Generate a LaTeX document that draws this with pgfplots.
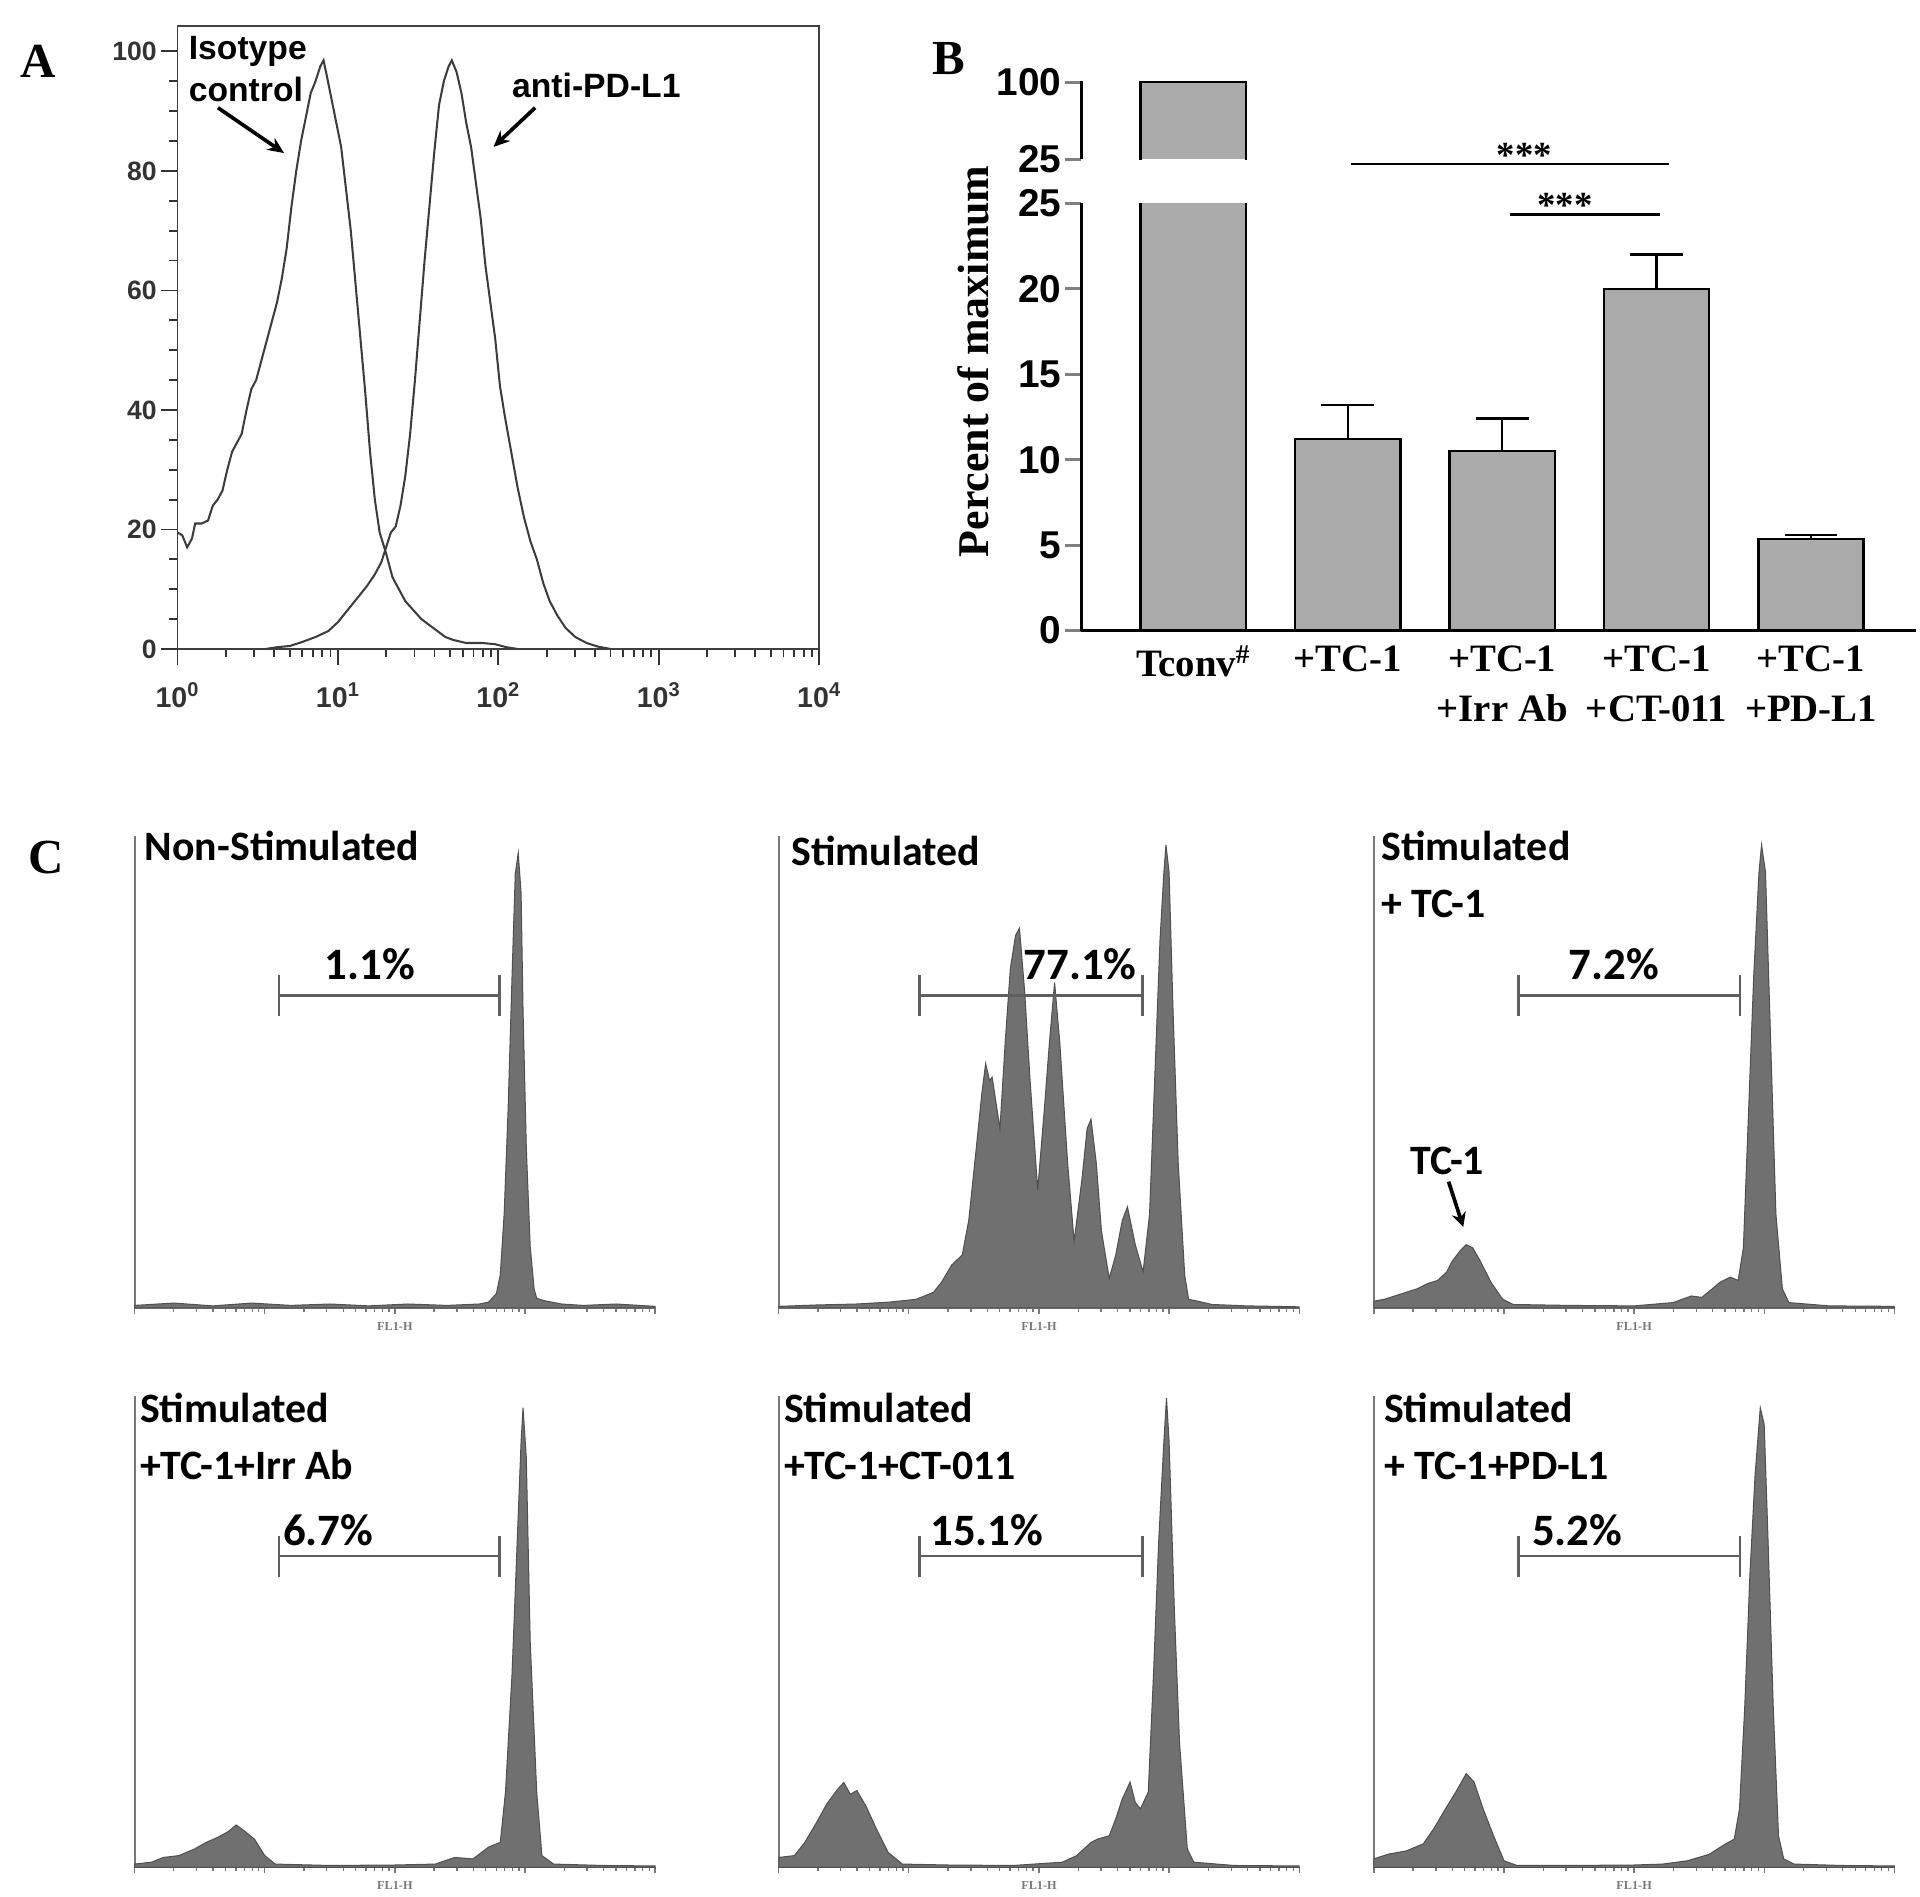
\documentclass[border=0pt]{standalone}
\usepackage{pgfplots}
\pgfplotsset{compat=1.18}
\usetikzlibrary{arrows.meta}
\usepackage{fontspec}
\setmainfont{Liberation Serif}
\newfontfamily\arial{Liberation Sans}
\newfontfamily\calib{Carlito}
\definecolor{histfill}{RGB}{112,112,112}
\definecolor{histline}{RGB}{80,80,80}
\definecolor{axgray}{RGB}{120,120,120}
\definecolor{gategray}{RGB}{95,95,95}
\definecolor{barfill}{RGB}{170,170,170}
\definecolor{curve}{RGB}{60,60,60}
\pgfplotsset{
  logminor/.style={minor xtick={0.301,0.477,0.602,0.699,0.778,0.845,0.903,0.954,
    1.301,1.477,1.602,1.699,1.778,1.845,1.903,1.954,
    2.301,2.477,2.602,2.699,2.778,2.845,2.903,2.954,
    3.301,3.477,3.602,3.699,3.778,3.845,3.903,3.954}},
  cpanel/.style={anchor=south west, scale only axis, width=255pt, height=231pt,
    xmin=0, xmax=4, ymin=0, ymax=100,
    axis lines=left, axis line style={-, color=axgray, line width=1.1pt},
    ytick=\empty, xtick={0,1,2,3,4}, xticklabel=\empty, logminor,
    tick align=outside, major tick length=3pt, minor tick length=2pt,
    tick style={color=axgray, line width=0.6pt},
    xlabel={FL1-H},
    xlabel style={font=\bfseries\fontsize{6}{6}\selectfont, text=axgray, at={(axis description cs:0.5,0)}, anchor=north, yshift=-3.5pt},
    clip=false},
  hist/.style={fill=histfill, draw=histline, line width=0.5pt},
}
\newcommand\gate[3]{\draw[gategray,line width=1.1pt] (#1pt,#3pt)--(#2pt,#3pt) (#1pt,#3pt+9.9pt)--(#1pt,#3pt-9.9pt) (#2pt,#3pt+9.9pt)--(#2pt,#3pt-9.9pt);}
\newcommand\ctitle{\calib\bfseries\fontsize{20.5}{20.5}\selectfont}
\newcommand\cpct{\calib\bfseries\fontsize{22}{22}\selectfont}
\begin{document}
\begin{tikzpicture}
\useasboundingbox (0pt,0pt) rectangle (940.8pt,-929.4pt);

% ---------------- Panel labels
\node[font=\bfseries\fontsize{24}{24}\selectfont] at (18.6pt,-30pt) {A};
\node[font=\bfseries\fontsize{24}{24}\selectfont] at (465pt,-28.8pt) {B};
\node[font=\bfseries\fontsize{24}{24}\selectfont] at (22.8pt,-420pt) {C};

% ---------------- Panel A
\begin{axis}[at={(87pt,-318pt)}, anchor=south west, scale only axis,
  width=314.4pt, height=305.4pt,
  xmin=0, xmax=4, ymin=0, ymax=104.3,
  xtick={0,1,2,3,4},
  xticklabels={10\textsuperscript{0},10\textsuperscript{1},10\textsuperscript{2},10\textsuperscript{3},10\textsuperscript{4}},
  logminor,
  ytick={0,20,40,60,80,100}, minor y tick num=3,
  tick align=outside, tick pos=left,
  major tick length=8pt, minor tick length=4pt,
  tick style={line width=0.9pt, black!80},
  axis line style={line width=0.9pt, black!75},
  /pgf/number format/assume math mode=true,
  yticklabel style={font=\arial\bfseries\fontsize{13}{13}\selectfont, text=black!80, inner xsep=2pt},
  xticklabel style={font=\arial\bfseries\fontsize{14}{14}\selectfont, text=black!80, yshift=-5pt},
]
\addplot[curve, line width=1pt] table {
x y
0.00 19.5
0.03 19.0
0.06 17.0
0.09 18.5
0.11 21.0
0.15 21.0
0.19 21.5
0.22 24.0
0.25 25.0
0.28 26.5
0.31 30.0
0.34 33.0
0.37 34.5
0.40 36.0
0.43 40.0
0.46 43.5
0.49 45.0
0.52 48.0
0.55 51.0
0.58 54.0
0.62 58.0
0.65 62.0
0.68 67.0
0.71 74.0
0.74 80.0
0.77 85.0
0.80 89.0
0.83 93.0
0.86 95.0
0.89 97.5
0.91 98.5
0.93 96.0
0.96 92.0
0.99 88.0
1.02 84.0
1.05 77.0
1.08 70.0
1.11 61.0
1.14 52.0
1.17 43.0
1.20 33.0
1.23 25.0
1.26 19.5
1.30 16.0
1.34 12.0
1.38 10.0
1.42 8.0
1.47 6.5
1.52 5.0
1.57 4.0
1.62 3.0
1.67 2.0
1.72 1.5
1.80 1.0
1.90 1.0
1.98 0.8
2.05 0.3
2.12 0.0
};
\addplot[curve, line width=1pt] table {
x y
0.55 0.0
0.62 0.3
0.70 0.5
0.78 1.2
0.86 2.0
0.94 3.0
1.00 4.5
1.06 6.5
1.12 8.5
1.18 10.5
1.23 12.5
1.27 14.5
1.30 17.0
1.33 19.5
1.36 20.5
1.39 24.0
1.42 29.0
1.45 36.0
1.48 45.0
1.51 55.0
1.54 65.0
1.57 74.0
1.60 83.0
1.63 91.0
1.66 95.0
1.69 97.5
1.71 98.5
1.74 96.5
1.77 93.0
1.80 88.0
1.83 84.0
1.86 78.0
1.89 72.0
1.92 64.0
1.95 58.0
1.98 52.0
2.01 44.0
2.04 39.0
2.08 33.0
2.12 27.0
2.16 22.0
2.20 18.0
2.24 15.0
2.28 11.0
2.32 8.0
2.37 5.5
2.42 3.5
2.48 2.0
2.55 1.0
2.62 0.4
2.70 0.0
};
\end{axis}
\node[anchor=west, font=\arial\bfseries\fontsize{16.5}{16.5}\selectfont] at (89pt,-25.2pt) {Isotype};
\node[anchor=west, font=\arial\bfseries\fontsize{16.5}{16.5}\selectfont] at (89pt,-43.8pt) {control};
\node[font=\arial\bfseries\fontsize{16.5}{16.5}\selectfont] at (292.2pt,-42pt) {anti-PD-L1};
\draw[line width=1.8pt, -{Stealth[length=8pt,width=7pt]}] (106.8pt,-52.8pt) -- (139.2pt,-75pt);
\draw[line width=1.8pt, -{Stealth[length=8pt,width=7pt]}] (262.2pt,-52.8pt) -- (241.8pt,-72pt);

% ---------------- Panel B (lower)
\begin{axis}[at={(529.8pt,-309pt)}, anchor=south west, scale only axis,
  width=409.2pt, height=209.4pt,
  xmin=-0.726, xmax=4.682, ymin=0, ymax=25,
  axis lines=left, axis line style={-, line width=1.5pt},
  xtick={0,1,2,3,4},
  xticklabels={{Tconv\textsuperscript{\#}},{+TC-1},{+TC-1\\+Irr Ab},{+TC-1\\+CT-011},{+TC-1\\+PD-L1}},
  xtick style={draw=none},
  ytick={0,5,10,15,20,25},
  tick align=outside, major tick length=8pt,
  ytick style={line width=1.5pt},
  /pgf/number format/assume math mode=true,
  yticklabel style={font=\arial\bfseries\fontsize{19}{19}\selectfont, inner xsep=1.5pt},
  xticklabel style={font=\bfseries\fontsize{19}{24.6}\selectfont, align=center, anchor=north, yshift=4pt},
]
\addplot[ybar, bar width=51.6pt, bar shift=0pt, fill=barfill, draw=black, line width=1.2pt] coordinates {(0,100)};
\addplot[ybar, bar width=51.6pt, bar shift=0pt, fill=barfill, draw=black, line width=1.2pt,
  error bars/.cd, y dir=plus, y explicit,
  error bar style={line width=1.2pt, black},
  error mark options={rotate=90, mark size=12.9pt, line width=1.2pt, black}]
  coordinates {(1,11.2) +- (0,2.0) (2,10.5) +- (0,1.9) (3,20.0) +- (0,2.0) (4,5.35) +- (0,0.25)};
\end{axis}
% ---------------- Panel B (upper)
\begin{axis}[at={(529.8pt,-78pt)}, anchor=south west, scale only axis,
  width=409.2pt, height=38.2pt,
  xmin=-0.726, xmax=4.682, ymin=25, ymax=100.8,
  axis y line=left, axis x line=none, axis line style={-, line width=1.5pt},
  xtick=\empty, ytick={25,100},
  tick align=outside, major tick length=8pt,
  ytick style={line width=1.5pt},
  /pgf/number format/assume math mode=true,
  yticklabel style={font=\arial\bfseries\fontsize{19}{19}\selectfont, inner xsep=1.5pt},
]
\addplot[ybar, bar width=51.6pt, bar shift=0pt, fill=barfill, draw=none] coordinates {(0,100)};
\addplot[black, line width=1.2pt, mark=none] coordinates {(-0.341,15) (-0.341,100) (0.341,100) (0.341,15)};
\end{axis}
\node[rotate=90, font=\bfseries\fontsize{21.5}{21.5}\selectfont] at (477pt,-177pt) {Percent of maximum};
\draw[line width=1.2pt] (661.8pt,-80.4pt) -- (817.8pt,-80.4pt);
\draw[line width=1.2pt] (739.8pt,-105pt) -- (813.6pt,-105pt);
\node[anchor=base, font=\bfseries\fontsize{18}{18}\selectfont, inner sep=0pt] at (747pt,-82pt) {***};
\node[anchor=base, font=\bfseries\fontsize{18}{18}\selectfont, inner sep=0pt] at (766.8pt,-106.5pt) {***};

% ---------------- Panel C row 1
\begin{axis}[cpanel, at={(66pt,-640.8pt)}]
\addplot[hist] table {
x y
0 0.5
0.3 1.0
0.6 0.4
0.9 1.0
1.2 0.5
1.5 0.8
1.8 0.4
2.1 0.8
2.4 0.5
2.65 0.8
2.72 1.2
2.78 3
2.81 7
2.84 20
2.87 42
2.90 70
2.925 92
2.948 96.5
2.97 88
2.985 63
3.01 34
3.04 13
3.07 4
3.09 2
3.15 1.5
3.28 0.8
3.45 0.5
3.7 0.8
4.0 0.3
} \closedcycle;
\end{axis}
\begin{axis}[cpanel, at={(381.6pt,-640.8pt)}]
\addplot[hist] table {
x y
0 0.3
0.3 0.6
0.6 0.8
0.85 1.2
1.056 1.8
1.19 3.3
1.25 5.4
1.33 9.1
1.41 11.2
1.46 18.5
1.52 34.4
1.56 45.3
1.59 51.8
1.62 48.2
1.64 48.9
1.70 38.0
1.74 56.2
1.78 72
1.82 79
1.85 80.5
1.89 67
1.93 48.9
1.99 25.0
2.04 41.7
2.08 56.2
2.12 69
2.16 56.2
2.22 30.8
2.27 14.1
2.33 27.2
2.37 38.0
2.40 40.0
2.44 30.8
2.48 16.3
2.54 6.2
2.59 11.2
2.64 18.5
2.68 21.4
2.74 13.4
2.80 7.6
2.85 19.9
2.89 48.9
2.93 77.9
2.96 92.4
2.976 98.2
3.00 92.4
3.03 63.4
3.07 30.8
3.12 6.9
3.15 1.8
3.22 1.4
3.33 0.7
3.6 0.4
4.0 0.2
} \closedcycle;
\end{axis}
\begin{axis}[cpanel, at={(673.2pt,-640.8pt)}]
\addplot[hist] table {
x y
0 1.4
0.08 1.8
0.16 2.5
0.25 3.3
0.33 4.0
0.41 5.1
0.49 5.8
0.56 7.6
0.60 9.8
0.66 12.0
0.71 13.4
0.76 12.7
0.82 9.8
0.90 5.4
0.99 1.8
1.07 0.7
1.5 0.5
2.0 0.4
2.3 1.1
2.44 2.5
2.52 2.2
2.60 4.0
2.66 5.4
2.74 6.5
2.80 5.8
2.84 12.7
2.88 41.7
2.92 70.7
2.96 92.4
2.98 98.2
3.01 92.4
3.05 56.2
3.09 19.9
3.14 4.0
3.19 1.1
3.5 0.4
4.0 0.3
} \closedcycle;
\end{axis}
% ---------------- Panel C row 2
\begin{axis}[cpanel, at={(66pt,-915pt)}]
\addplot[hist] table {
x y
0 0.7
0.13 1.1
0.22 2.1
0.34 2.5
0.46 3.9
0.55 5.3
0.64 6.4
0.72 7.6
0.78 9.0
0.84 7.8
0.92 6.0
1.00 2.5
1.08 0.7
1.5 0.4
2.0 0.5
2.31 0.7
2.46 2.1
2.60 1.8
2.72 4.3
2.81 5.3
2.85 16.0
2.90 40.8
2.94 69.1
2.97 90.4
2.985 97.5
3.01 86.9
3.04 47.9
3.09 16.0
3.13 2.5
3.22 0.7
3.6 0.4
4.0 0.3
} \closedcycle;
\end{axis}
\begin{axis}[cpanel, at={(381.6pt,-915pt)}]
\addplot[hist] table {
x y
0 2.1
0.12 2.5
0.20 5.3
0.29 9.5
0.37 13.5
0.45 16.5
0.50 18.0
0.55 15.5
0.60 16.3
0.67 13.0
0.75 8.2
0.84 3.2
0.95 0.7
1.3 0.5
1.8 0.4
2.18 1.1
2.29 2.5
2.40 5.3
2.45 6.0
2.54 6.7
2.59 10.3
2.64 14.5
2.70 18.1
2.74 13.8
2.78 12.4
2.84 16.0
2.88 40.8
2.92 69.1
2.96 90.4
2.98 99.6
3.00 90.4
3.04 55.0
3.08 26.6
3.14 3.9
3.19 1.1
3.5 0.4
4.0 0.3
} \closedcycle;
\end{axis}
\begin{axis}[cpanel, at={(673.2pt,-915pt)}]
\addplot[hist] table {
x y
0 1.8
0.11 2.8
0.25 3.5
0.38 5.0
0.46 8.2
0.55 12.4
0.63 16.0
0.71 19.9
0.77 18.1
0.84 12.4
0.92 6.7
1.00 1.4
1.10 0.4
1.5 0.4
2.0 0.5
2.22 0.7
2.41 1.4
2.58 2.8
2.68 4.6
2.77 6.0
2.81 12.4
2.85 33.7
2.89 62.0
2.93 83.3
2.97 97.5
3.00 94.0
3.03 69.1
3.07 33.7
3.11 6.7
3.15 1.8
3.23 0.7
3.6 0.4
4.0 0.3
} \closedcycle;
\end{axis}

% ---------------- Panel C annotations
\node[anchor=base west, font=\ctitle, inner sep=0pt] at (70.8pt,-421.8pt) {Non-Stimulated};
\node[anchor=base west, font=\ctitle, inner sep=0pt] at (387.6pt,-424.2pt) {Stimulated};
\node[anchor=base west, font=\ctitle, inner sep=0pt] at (676.8pt,-421.8pt) {Stimulated};
\node[anchor=base west, font=\ctitle, inner sep=0pt] at (676.8pt,-449.4pt) {+ TC-1};
\node[anchor=base west, font=\ctitle, inner sep=0pt] at (68.4pt,-697.2pt) {Stimulated};
\node[anchor=base west, font=\ctitle, inner sep=0pt] at (68.4pt,-724.8pt) {+TC-1+Irr Ab};
\node[anchor=base west, font=\ctitle, inner sep=0pt] at (384pt,-697.2pt) {Stimulated};
\node[anchor=base west, font=\ctitle, inner sep=0pt] at (384pt,-724.8pt) {+TC-1+CT-011};
\node[anchor=base west, font=\ctitle, inner sep=0pt] at (678pt,-697.2pt) {Stimulated};
\node[anchor=base west, font=\ctitle, inner sep=0pt] at (678pt,-724.8pt) {+ TC-1+PD-L1};

\gate{136.8}{244.8}{-487.8}
\gate{450.6}{559.8}{-487.8}
\gate{744}{852.6}{-487.8}
\gate{136.8}{244.8}{-762.6}
\gate{450.6}{559.8}{-762.6}
\gate{744}{852.6}{-762.6}

\node[anchor=base, font=\cpct, inner sep=0pt] at (181.2pt,-479.9pt) {1.1\%};
\node[anchor=base, font=\cpct, inner sep=0pt] at (529.2pt,-479.9pt) {77.1\%};
\node[anchor=base, font=\cpct, inner sep=0pt] at (790.8pt,-479.9pt) {7.2\%};
\node[anchor=base, font=\cpct, inner sep=0pt] at (160.8pt,-757.1pt) {6.7\%};
\node[anchor=base, font=\cpct, inner sep=0pt] at (483.6pt,-757.1pt) {15.1\%};
\node[anchor=base, font=\cpct, inner sep=0pt] at (772.8pt,-757.1pt) {5.2\%};

\node[anchor=base, font=\ctitle, inner sep=0pt] at (709.2pt,-575.4pt) {TC-1};
\draw[line width=1.8pt, -{Stealth[length=7pt,width=7pt]}] (709.8pt,-579pt) -- (717pt,-601.2pt);
\end{tikzpicture}
\end{document}
